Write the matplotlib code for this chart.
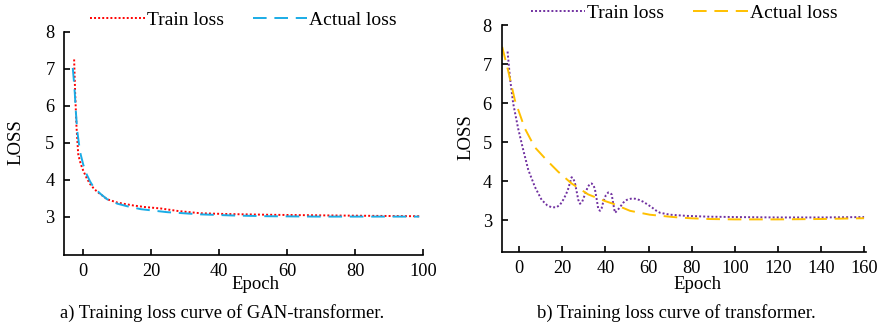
import matplotlib
matplotlib.use("Agg")
import matplotlib.pyplot as plt

plt.rcParams['font.family'] = ['Liberation Serif', 'DejaVu Serif']

# --- a) GAN-transformer ---
gan_train_epoch = [-2.7, -2.4, -2.0, -1.5, -1.0, -0.5, 0, 1, 2, 3, 4, 5, 7, 10, 12.9, 14.8,
                   18, 22.8, 28, 34.6, 42, 54.4, 64, 74.2, 86, 98.9]
gan_train_loss = [7.25, 6.34, 5.42, 4.69, 4.50, 4.36, 4.24, 4.04, 3.88, 3.77, 3.68, 3.61, 3.47, 3.38,
                  3.33, 3.30, 3.26, 3.22, 3.15, 3.09, 3.07, 3.05, 3.04, 3.03, 3.02, 3.01]
gan_actual_epoch = [-3.1, -2.8, -2.5, -2.2, -1.8, -1.3, -0.8, 0, 1, 2, 3, 5, 7, 10, 12.9, 17,
                    24.7, 34.6, 44, 54.4, 70, 85, 98.9]
gan_actual_loss = [7.02, 6.70, 6.34, 5.85, 5.33, 4.98, 4.69, 4.40, 4.14, 3.95, 3.80, 3.62, 3.47,
                   3.35, 3.28, 3.20, 3.12, 3.06, 3.03, 3.01, 3.00, 3.00, 3.00]

# --- b) transformer ---
tr_train_epoch = [-5.4, -4.3, -2.8, -0.5, 1.9, 4.2, 7.3, 10.4, 13, 15.0, 17.3, 19, 20.4, 21.7, 22.7,
                  23.6, 24.3, 25.1, 25.9, 26.7, 27.4, 28.2, 29.2, 30.5, 31.8, 32.8, 33.6, 34.4, 35.1,
                  35.9, 36.7, 37.5, 38.2, 39.0, 40.2, 41.3, 42.1, 42.9, 43.7, 44.4, 45.4, 46.7, 48.3,
                  49.9, 51.8, 53.7, 55.6, 57.6, 59.6, 61.5, 63.4, 65.3, 70, 77.7, 87.7, 100, 120, 140, 160]
tr_train_loss = [7.32, 6.65, 5.99, 5.35, 4.79, 4.29, 3.85, 3.52, 3.38, 3.33, 3.33, 3.40, 3.52, 3.66, 3.80,
                 3.97, 4.10, 4.07, 3.94, 3.72, 3.52, 3.42, 3.47, 3.66, 3.85, 3.93, 3.94, 3.90, 3.80,
                 3.55, 3.28, 3.24, 3.30, 3.47, 3.64, 3.71, 3.70, 3.66, 3.40, 3.19, 3.24, 3.33, 3.45,
                 3.52, 3.55, 3.55, 3.52, 3.47, 3.40, 3.33, 3.25, 3.19, 3.14, 3.11, 3.09, 3.08, 3.07, 3.07, 3.08]
tr_actual_epoch = [-7.9, -5.1, -2.0, 2.6, 7.2, 12.7, 18.1, 24.3, 32, 39.8, 43.6, 51.4, 60.6, 71.5,
                   79.2, 87.7, 100, 120, 140, 160]
tr_actual_loss = [7.44, 6.82, 6.07, 5.35, 4.87, 4.54, 4.24, 3.94, 3.66, 3.49, 3.42, 3.24, 3.14, 3.08,
                  3.05, 3.03, 3.02, 3.02, 3.03, 3.05]

fig = plt.figure(figsize=(8.83, 3.27), dpi=100)
ax1 = fig.add_axes([0.0728, 0.220, 0.4062, 0.683])
ax2 = fig.add_axes([0.568, 0.230, 0.413, 0.6935])

ax1.plot(gan_train_epoch, gan_train_loss, color='#FF0000', lw=1.4, ls=(0, (1, 1.1)), label='Train loss')
ax1.plot(gan_actual_epoch, gan_actual_loss, color='#1AACE6', lw=1.4, ls=(0, (7, 4)), label='Actual loss')
ax2.plot(tr_train_epoch, tr_train_loss, color='#7030A0', lw=1.4, ls=(0, (1, 1.1)), label='Train loss')
ax2.plot(tr_actual_epoch, tr_actual_loss, color='#FFC000', lw=1.4, ls=(0, (7, 4)), label='Actual loss')

ax1.set_xlim(-5.6, 100)
ax1.set_ylim(1.96, 8)
ax1.set_xticks([0, 20, 40, 60, 80, 100])
ax2.set_xlim(-8.2, 161)
ax2.set_ylim(2.19, 8)
ax2.set_xticks([0, 20, 40, 60, 80, 100, 120, 140, 160])

for ax in (ax1, ax2):
    ax.set_yticks([3, 4, 5, 6, 7, 8])
    for s in ('top', 'right'):
        ax.spines[s].set_visible(False)
    for s in ('left', 'bottom'):
        ax.spines[s].set_linewidth(1.2)
    ax.tick_params(direction='in', length=4, width=1.2, labelsize=13.2)
    ax.tick_params(axis='y', pad=7)
    ax.tick_params(axis='x', pad=6)
    ax.set_xlabel('Epoch', fontsize=13.5)
    ax.set_ylabel('LOSS', fontsize=13.5)
    ax.legend(loc='lower center', bbox_to_anchor=(0.5, 1.0), ncol=2, frameon=False, fontsize=14,
              handlelength=2.8, handletextpad=0.1, columnspacing=1.5, borderaxespad=0, borderpad=0.15)

ax1.xaxis.set_label_coords(0.532, -0.095)
ax2.xaxis.set_label_coords(0.538, -0.105)
ax1.yaxis.set_label_coords(-0.110, 0.506)
ax2.yaxis.set_label_coords(-0.073, 0.507)

fig.text(222.5 / 883, 1 - 313 / 327, 'a) Training loss curve of GAN-transformer.', ha='center', va='center', fontsize=13.4)
fig.text(676.7 / 883, 1 - 313 / 327, 'b) Training loss curve of transformer.', ha='center', va='center', fontsize=13.4)

fig.savefig('out.png', dpi=100)
